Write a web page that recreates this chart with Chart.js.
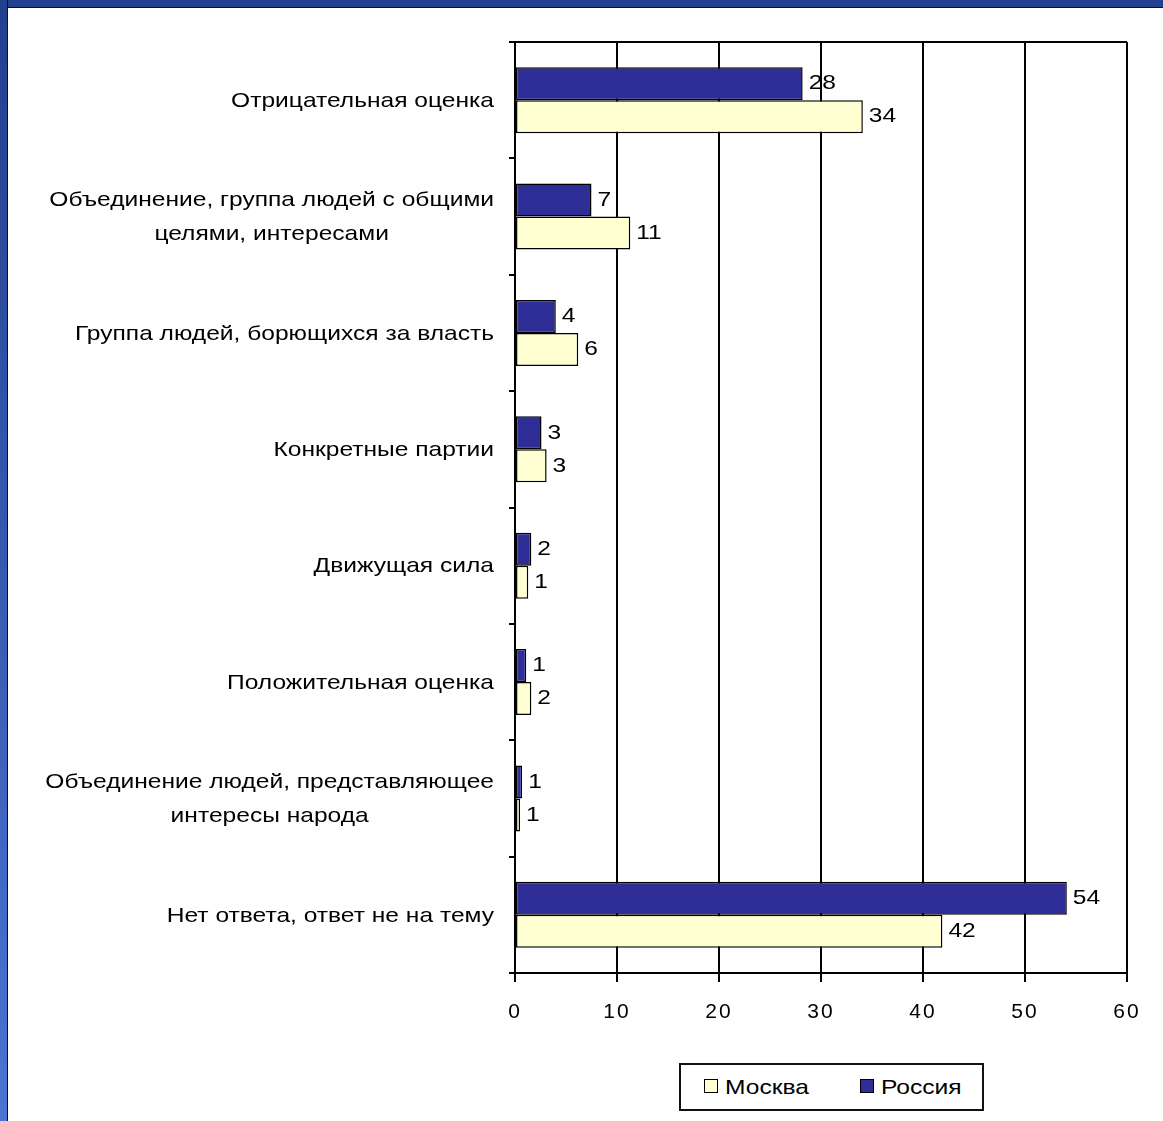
<!DOCTYPE html>
<html>
<head>
<meta charset="utf-8">
<script src="https://cdn.jsdelivr.net/npm/chart.js@4.4.0/dist/chart.umd.min.js"></script>
<style>
    html, body { margin: 0; padding: 0; background: #fff; }
    body { width: 1163px; height: 1121px; position: relative; overflow: hidden; font-family: "Liberation Sans", Arial, sans-serif; }
    #chart-wrap { position: absolute; left: 0; top: 0; width: 1163px; height: 1121px; }
    .frame-top { position: absolute; left: 0; top: 0; width: 1163px; height: 7px; background: #233f8f; border-bottom: 1px solid #111; }
    .frame-left { position: absolute; left: 0; top: 0; width: 7px; height: 1121px; background: linear-gradient(#233f8f, #4a74d2); border-right: 1px solid #111; }
    #legend { position: absolute; left: 679px; top: 1063px; width: 301px; height: 44px; border: 2px solid #111; background: #fff; }
    .legend-item { position: absolute; top: 10px; font-size: 21px; line-height: 24px; color: #000; white-space: nowrap; }
    .legend-item span { display: inline-block; width: 12px; height: 12px; border: 1px solid #000; margin-right: 7px; vertical-align: 1px; }
    .legend-item b { display: inline-block; font-weight: normal; transform: scaleX(1.17); transform-origin: left center; }
</style>
</head>
<body>
<div id="chart-wrap"><canvas id="party-chart" width="1163" height="1121"></canvas></div>
<div class="frame-top"></div>
<div class="frame-left"></div>
<div id="legend"></div>
<script>
const categories = [
    ['Отрицательная оценка'],
    ['Объединение, группа людей с общими', 'целями, интересами'],
    ['Группа людей, борющихся за власть'],
    ['Конкретные партии'],
    ['Движущая сила'],
    ['Положительная оценка'],
    ['Объединение людей, представляющее', 'интересы народа'],
    ['Нет ответа, ответ не на тему']
];
const russiaValues = [28.2, 7.5, 4.0, 2.6, 1.6, 1.1, 0.7, 54.1];
const moscowValues = [34.1, 11.3, 6.2, 3.1, 1.3, 1.6, 0.5, 41.9];
const russiaLabels = ['28', '7', '4', '3', '2', '1', '1', '54'];
const moscowLabels = ['34', '11', '6', '3', '1', '2', '1', '42'];
const xTicks = [0, 10, 20, 30, 40, 50, 60];

const FONT = '"Liberation Sans", Arial, sans-serif';
const STRETCH = 1.17; // the original glyphs are wider than Arial

// tick numbers are drawn by Chart.js, give them a little air
const wideText = {
    id: 'wideText',
    beforeDraw(chart) {
        chart.ctx.letterSpacing = '2px';
    }
};

// draw text squeezed out horizontally around an anchor point
function stretchedText(ctx, text, x, y, align) {
    ctx.save();
    ctx.translate(x, y);
    ctx.scale(STRETCH, 1);
    ctx.textAlign = align;
    ctx.fillText(text, 0, 0);
    ctx.restore();
}

// category names on the left, wrapped lines centred on each other
const categoryLabels = {
    id: 'categoryLabels',
    afterDraw(chart) {
        const ctx = chart.ctx;
        const yScale = chart.scales.y;
        ctx.save();
        ctx.letterSpacing = '0px';
        ctx.font = '21px ' + FONT;
        ctx.fillStyle = '#000';
        ctx.textBaseline = 'middle';
        const right = yScale.right - 21;
        const lineHeight = 34;
        chart.data.labels.forEach((lines, i) => {
            const yc = yScale.getPixelForValue(i) + 1;
            const blockW = Math.max(...lines.map(l => ctx.measureText(l).width)) * STRETCH;
            const cx = right - blockW / 2;
            const top = yc - (lines.length - 1) * lineHeight / 2;
            lines.forEach((l, k) => stretchedText(ctx, l, cx, top + k * lineHeight, 'center'));
        });
        ctx.restore();
    }
};

// value labels at the end of each bar
const valueLabels = {
    id: 'valueLabels',
    afterDatasetsDraw(chart) {
        const ctx = chart.ctx;
        ctx.save();
        ctx.letterSpacing = '0px';
        ctx.font = '21px ' + FONT;
        ctx.fillStyle = '#000';
        ctx.textBaseline = 'middle';
        chart.data.datasets.forEach((ds, di) => {
            chart.getDatasetMeta(di).data.forEach((bar, i) => {
                stretchedText(ctx, ds.valueText[i], bar.x + 6, bar.y, 'left');
            });
        });
        ctx.restore();
    }
};

const ctx = document.getElementById('party-chart').getContext('2d');
const partyChart = new Chart(ctx, {
    type: 'bar',
    data: {
        labels: categories,
        datasets: [{
            label: 'Россия',
            data: russiaValues,
            valueText: russiaLabels,
            backgroundColor: '#2e2e96',
            borderColor: '#000',
            borderWidth: 1.5,
            borderSkipped: false
        }, {
            label: 'Москва',
            data: moscowValues,
            valueText: moscowLabels,
            backgroundColor: '#ffffd2',
            borderColor: '#000',
            borderWidth: 1.5,
            borderSkipped: false
        }]
    },
    options: {
        indexAxis: 'y',
        responsive: false,
        animation: false,
        layout: { padding: { left: 0, right: 36, top: 42, bottom: 0 } },
        categoryPercentage: 0.567,
        barPercentage: 1.0,
        plugins: {
            legend: { display: false },
            tooltip: { enabled: false }
        },
        scales: {
            x: {
                min: 0,
                max: 60,
                afterBuildTicks: (scale) => { scale.ticks = xTicks.map(v => ({ value: v })); },
                border: { color: '#000', width: 2 },
                grid: { color: '#000', lineWidth: 2, tickLength: 9, tickColor: '#000' },
                ticks: { color: '#000', padding: 18, font: { family: FONT, size: 21 } },
                afterFit: (scale) => { scale.height = 148; }
            },
            y: {
                border: { color: '#000', width: 2 },
                grid: {
                    offset: true,
                    color: (c) => c.index === 0 ? '#000' : 'rgba(0,0,0,0)',
                    lineWidth: 2,
                    tickColor: '#000',
                    tickLength: 6
                },
                ticks: { display: false },
                afterFit: (scale) => { scale.width = 515; }
            }
        }
    },
    plugins: [wideText, categoryLabels, valueLabels]
});

// legend box below the plot, Москва first
const legendEl = document.getElementById('legend');
const legendPos = { 'Москва': 23, 'Россия': 179 };
partyChart.data.datasets.slice().reverse().forEach(ds => {
    const item = document.createElement('div');
    item.className = 'legend-item';
    item.style.left = legendPos[ds.label] + 'px';
    item.innerHTML = '<span style="background:' + ds.backgroundColor + '"></span><b>' + ds.label + '</b>';
    legendEl.appendChild(item);
});
</script>
</body>
</html>
